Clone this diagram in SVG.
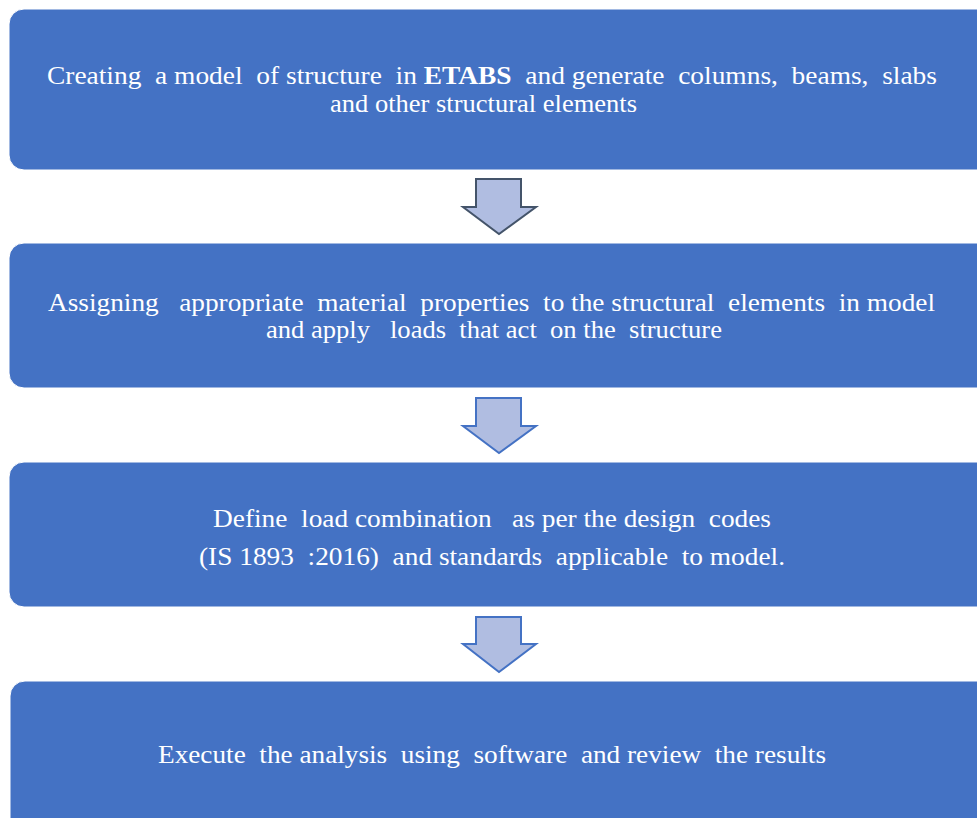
<svg xmlns="http://www.w3.org/2000/svg" width="977" height="818" viewBox="0 0 977 818">
<style>
.box{fill:#4472C4;stroke:#ffffff;stroke-width:1}
.t{font-family:"Liberation Serif","Times New Roman",serif;font-size:25px;fill:#ffffff;white-space:pre}
.t2{font-size:26px}
.b{font-weight:bold}
.arr{fill:#B0BDE1;stroke-width:2;stroke-linejoin:miter}
</style>
<rect width="977" height="818" fill="#ffffff"/>
<g id="node1">
<rect class="box" x="9" y="9" width="1000" height="161" rx="15"/>
<text class="t" x="47" y="84" textLength="890" lengthAdjust="spacingAndGlyphs">Creating  a model  of structure  in <tspan class="b">ETABS</tspan>  and generate  columns,  beams,  slabs</text>
<text class="t" x="330" y="112" textLength="307" lengthAdjust="spacingAndGlyphs">and other structural elements</text>
</g>
<g id="node2">
<rect class="box" x="9" y="243" width="1000" height="145" rx="15"/>
<text class="t" x="48" y="311" textLength="887" lengthAdjust="spacingAndGlyphs">Assigning   appropriate  material  properties  to the structural  elements  in model</text>
<text class="t" x="266" y="338" textLength="456" lengthAdjust="spacingAndGlyphs">and apply   loads  that act  on the  structure</text>
</g>
<g id="node3">
<rect class="box" x="9" y="462" width="1000" height="145" rx="15"/>
<text class="t t2" x="213" y="527" textLength="558" lengthAdjust="spacingAndGlyphs">Define  load combination   as per the design  codes</text>
<text class="t t2" x="199" y="565" textLength="586" lengthAdjust="spacingAndGlyphs">(IS 1893  :2016)  and standards  applicable  to model.</text>
</g>
<g id="node4">
<rect class="box" x="10" y="681" width="1000" height="160" rx="15"/>
<text class="t t2" x="158" y="763" textLength="668" lengthAdjust="spacingAndGlyphs">Execute  the analysis  using  software  and review  the results</text>
</g>
<g id="connectors">
<polygon class="arr" stroke="#44546A" points="476,179 521,179 521,207 536,207 499,234 463,207 476,207"/>
<polygon class="arr" stroke="#4472C4" points="476,398 521,398 521,426 536,426 499,453 463,426 476,426"/>
<polygon class="arr" stroke="#4472C4" points="476,617 521,617 521,644 536,644 499,672 463,644 476,644"/>
</g>
</svg>
